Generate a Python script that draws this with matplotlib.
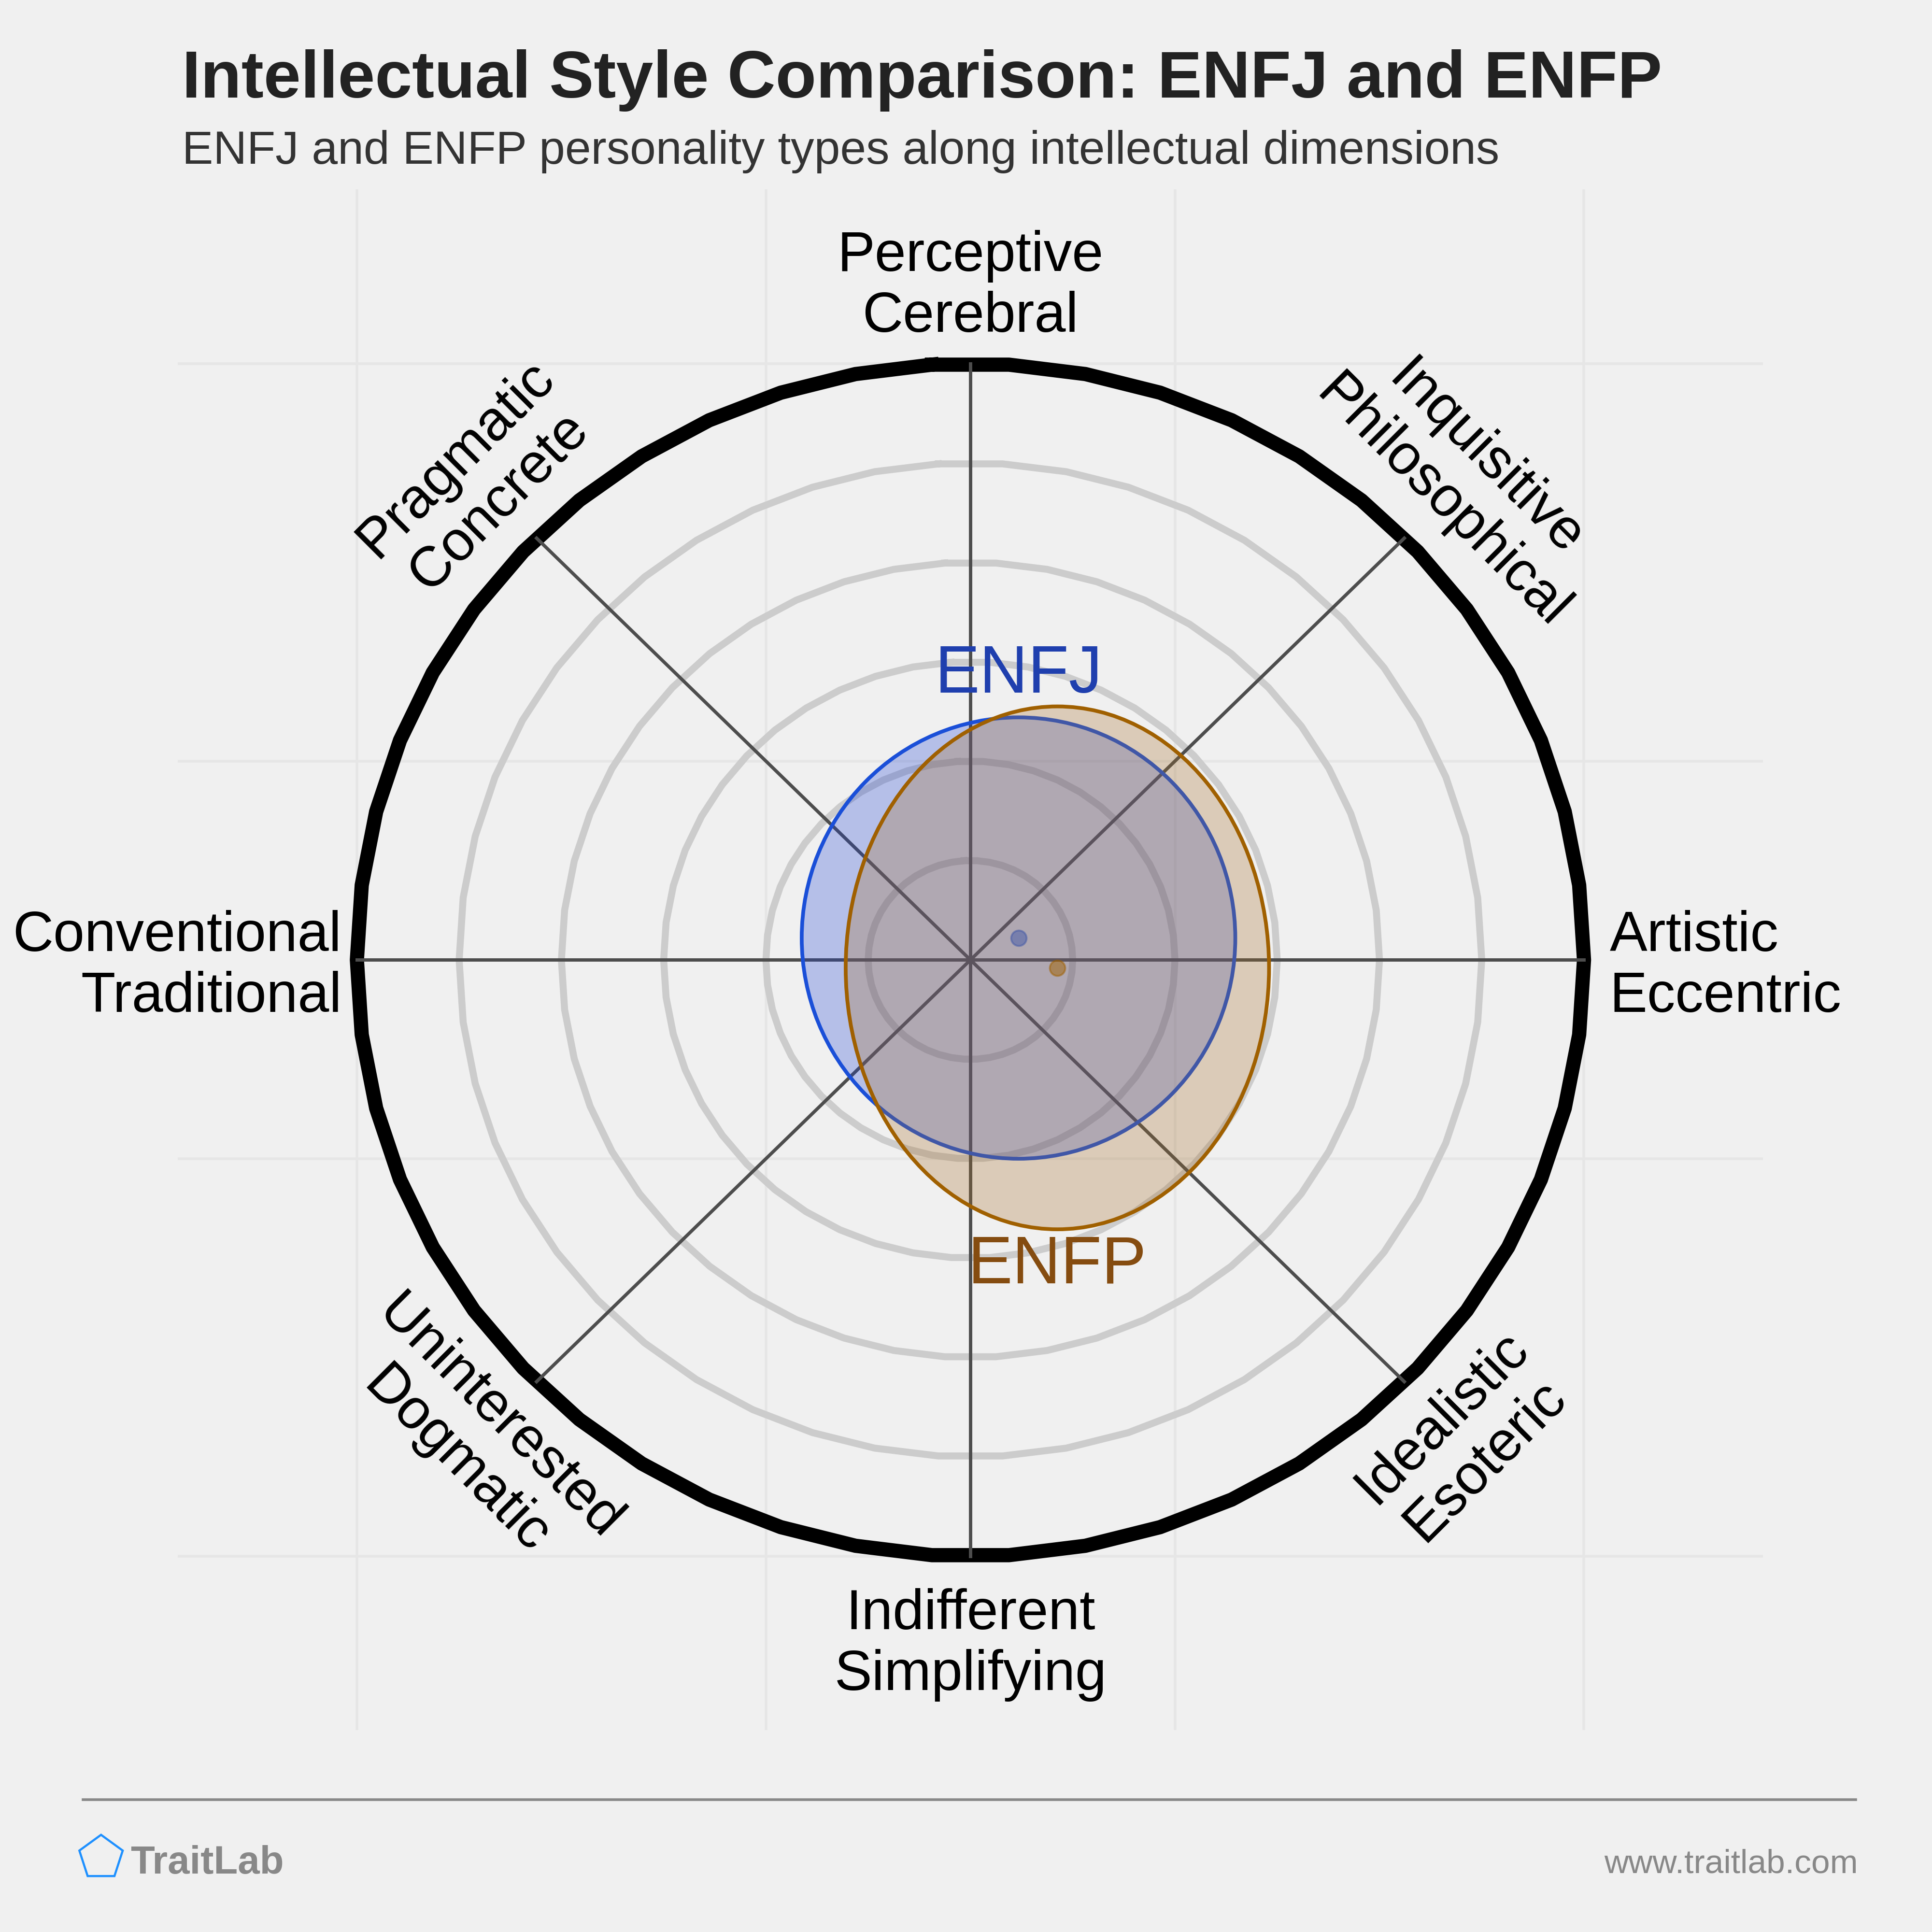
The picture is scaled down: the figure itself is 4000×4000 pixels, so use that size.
#!/usr/bin/env python3
"""Intellectual style comparison: ENFJ vs ENFP on an 8-axis ring chart.

Writes ``out.png`` (4000 x 4000 px).
"""

import matplotlib
matplotlib.use("Agg")
import matplotlib.pyplot as plt
import matplotlib.patches as mpatches
import numpy as np

plt.rcParams["font.family"] = ["Liberation Sans", "DejaVu Sans"]

# --- data -----------------------------------------------------------------
TITLE = "Intellectual Style Comparison: ENFJ and ENFP"
SUBTITLE = "ENFJ and ENFP personality types along intellectual dimensions"

# axis labels, counter-clockwise from the right (0 deg)
AXIS_LABELS = [
    "Artistic\nEccentric",
    "Inquisitive\nPhilosophical",
    "Perceptive\nCerebral",
    "Pragmatic\nConcrete",
    "Conventional\nTraditional",
    "Uninterested\nDogmatic",
    "Indifferent\nSimplifying",
    "Idealistic\nEsoteric",
]
AXIS_ANGLES = [0, 45, 90, 135, 180, 225, 270, 315]

TYPES = ["ENFJ", "ENFP"]
CENTER_X = [0.47, 0.85]
CENTER_Y = [0.22, -0.08]
SPREAD_X = [2.12, 2.07]
SPREAD_Y = [2.22, 2.63]

RING_RADII = [1, 2, 3, 4, 5]
OUTER_RADIUS = 6

# --- style ----------------------------------------------------------------
BG = "#f0f0f0"
FILL = {"ENFJ": "#1e41d4", "ENFP": "#a56e28"}
EDGE = {"ENFJ": "#1a4fd8", "ENFP": "#a06000"}
TEXT = {"ENFJ": "#1f3fae", "ENFP": "#854c10"}


def ring(ax, r, n=50, **kw):
    t = np.linspace(0, 2 * np.pi, n + 1) + np.pi / 2 + np.pi / n
    ax.plot(r * np.cos(t), r * np.sin(t), **kw)


def main():
    fig = plt.figure(figsize=(10, 10), dpi=400, facecolor=BG)
    ax = fig.add_axes([0.0921, 0.1044, 0.8204, 0.7975])
    ax.set_facecolor(BG)
    ax.set_xlim(-7.75, 7.75)
    ax.set_ylim(-7.75, 7.75)
    ax.set_xticks([-6, -2, 2, 6])
    ax.set_yticks([-6, -2, 2, 6])
    ax.tick_params(length=0, labelbottom=False, labelleft=False)
    ax.grid(True, color="#e6e6e6", linewidth=1.0)
    ax.set_axisbelow(True)
    for s in ax.spines.values():
        s.set_visible(False)

    # rings
    for r in RING_RADII:
        ring(ax, r, color="#cccccc", linewidth=2.6, zorder=1)
    ring(ax, OUTER_RADIUS, color="black", linewidth=5.3, zorder=1.5)

    # spokes
    for a in AXIS_ANGLES:
        th = np.deg2rad(a)
        ax.plot([0, OUTER_RADIUS * np.cos(th)], [0, OUTER_RADIUS * np.sin(th)],
                color="#4d4d4d", linewidth=1.25, zorder=2)

    # axis labels
    for lab, a in zip(AXIS_LABELS, AXIS_ANGLES):
        th = np.deg2rad(a)
        kw = dict(fontsize=21, color="black", linespacing=1.2)
        if a == 0:
            ax.text(6.25, -0.07, lab, ha="left", va="center", **kw)
        elif a == 180:
            ax.text(-6.15, -0.07, lab, ha="right", va="center", **kw)
        elif a == 90:
            ax.text(0, 6.2, lab, ha="center", va="bottom", **kw)
        elif a == 270:
            ax.text(0, -6.32, lab, ha="center", va="top", **kw)
        else:
            rot = 45 if a in (135, 315) else -45
            r = 6.82
            ax.text(r * np.cos(th), r * np.sin(th), lab, ha="center",
                    va="center", rotation=rot, **kw)

    # type ellipses
    for i, t in enumerate(TYPES):
        cx, cy = CENTER_X[i], CENTER_Y[i]
        w, h = 2 * SPREAD_X[i], 2 * SPREAD_Y[i]
        ax.add_patch(mpatches.Ellipse((cx, cy), w, h, facecolor=FILL[t],
                                      alpha=0.28, edgecolor="none",
                                      zorder=3 + i))
        ax.add_patch(mpatches.Ellipse((cx, cy), w, h, facecolor="none",
                                      edgecolor=EDGE[t], linewidth=1.4,
                                      zorder=3 + i))
        ax.scatter([cx], [cy], s=33, color=EDGE[t], alpha=0.5,
                   edgecolors=EDGE[t], linewidths=0.7, zorder=3 + i)

    # type names
    ax.text(CENTER_X[0], CENTER_Y[0] + SPREAD_Y[0] + 0.25, TYPES[0],
            ha="center", va="baseline", fontsize=25, color=TEXT["ENFJ"],
            zorder=6)
    ax.text(CENTER_X[1], CENTER_Y[1] - SPREAD_Y[1] - 0.54, TYPES[1],
            ha="center", va="baseline", fontsize=25, color=TEXT["ENFP"],
            zorder=6)

    # titles
    fig.text(0.0943, 0.9496, TITLE, fontsize=24.9, fontweight="bold",
             color="#222222", ha="left", va="baseline")
    fig.text(0.0943, 0.9153, SUBTITLE, fontsize=17.4, color="#333333",
             ha="left", va="baseline")

    # footer
    fig.add_artist(plt.Line2D([0.043, 0.9605], [0.0685, 0.0685],
                              color="#888888", linewidth=1.0,
                              transform=fig.transFigure))
    fig.add_artist(mpatches.RegularPolygon((0.0523, 0.0385), 5,
                                           radius=0.0118, facecolor="none",
                                           edgecolor="#1e90ff",
                                           linewidth=0.8,
                                           transform=fig.transFigure))
    fig.text(0.0675, 0.0303, "TraitLab", fontsize=14.7, fontweight="bold",
             color="#888888", ha="left", va="baseline")
    fig.text(0.9618, 0.0305, "www.traitlab.com", fontsize=12.5,
             color="#888888", ha="right", va="baseline")

    fig.savefig("out.png", dpi=400, facecolor=BG)
    plt.close(fig)


if __name__ == "__main__":
    main()
